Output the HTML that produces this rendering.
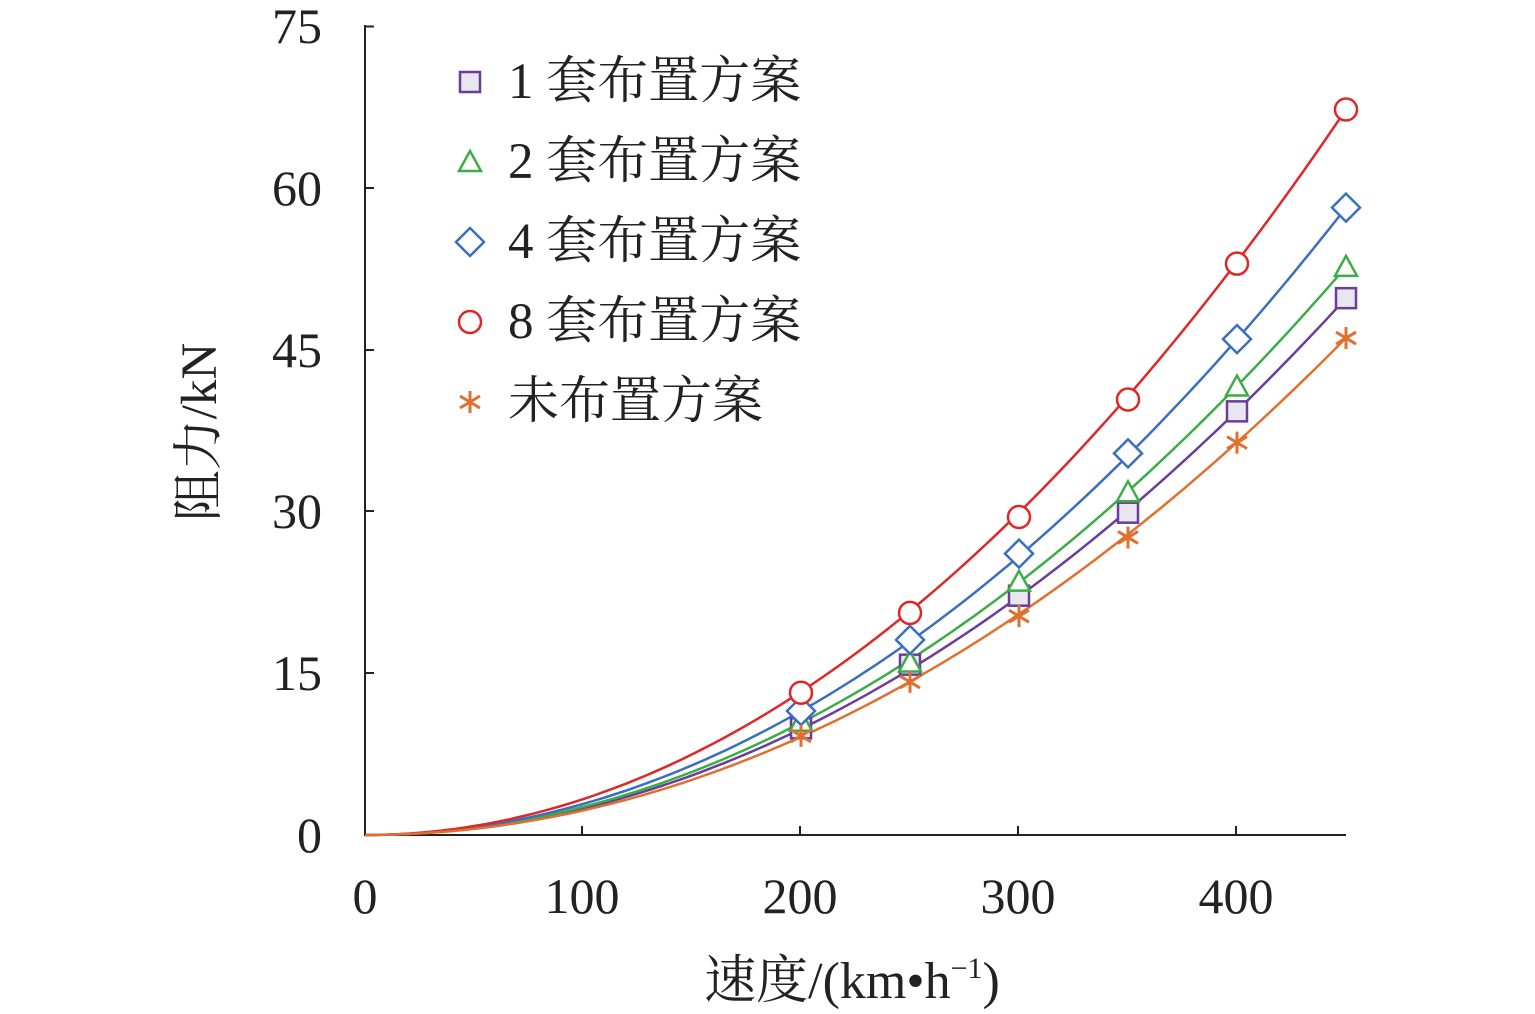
<!DOCTYPE html>
<html><head><meta charset="utf-8"><style>
body{margin:0;background:#fff}
svg{display:block}
text{font-family:"Liberation Serif","Noto Serif CJK SC",serif;fill:#222}
</style></head><body>
<svg id="s" width="1535" height="1014" viewBox="0 0 1535 1014" xmlns="http://www.w3.org/2000/svg">
<g stroke="#222" stroke-width="2" fill="none">
<line x1="365" y1="25" x2="365" y2="836"/>
<line x1="364" y1="835" x2="1346" y2="835"/>
<line x1="365" y1="26.5" x2="374" y2="26.5"/>
<line x1="365" y1="188" x2="374" y2="188"/>
<line x1="365" y1="350" x2="374" y2="350"/>
<line x1="365" y1="511" x2="374" y2="511"/>
<line x1="365" y1="673" x2="374" y2="673"/>
<line x1="582" y1="835" x2="582" y2="826"/>
<line x1="800" y1="835" x2="800" y2="826"/>
<line x1="1018" y1="835" x2="1018" y2="826"/>
<line x1="1236" y1="835" x2="1236" y2="826"/>
</g>
<g font-size="50" text-anchor="end">
<text x="322" y="43">75</text>
<text x="322" y="205">60</text>
<text x="322" y="367">45</text>
<text x="322" y="528">30</text>
<text x="322" y="690">15</text>
<text x="322" y="852">0</text>
</g>
<g font-size="50" text-anchor="middle">
<text x="365" y="913">0</text>
<text x="582" y="913">100</text>
<text x="800" y="913">200</text>
<text x="1018" y="913">300</text>
<text x="1236" y="913">400</text>
<text x="852" y="998" font-size="52">速度/(km•h<tspan font-size="30" dy="-20">−1</tspan><tspan dy="20">)</tspan></text>
</g>
<text font-size="51" text-anchor="middle" transform="translate(216,432) rotate(-90)">阻力/kN</text>
<g id="curves"></g>
<g font-size="51">
<text x="508" y="98">1 套布置方案</text>
<text x="508" y="178">2 套布置方案</text>
<text x="508" y="258">4 套布置方案</text>
<text x="508" y="338">8 套布置方案</text>
<text x="508" y="418">未布置方案</text>
</g>
</svg>
<script>
var S=[
{c:"#6a3d9a",m:"sq",d:[9.9,15.8,22.2,29.9,39.3,49.8]},
{c:"#3cad44",m:"tri",d:[10.5,16,23.5,31.8,41.6,52.7]},
{c:"#3a6fbf",m:"dia",d:[11.5,18.1,26.1,35.4,46,58.2]},
{c:"#e02727",m:"cir",d:[13.2,20.6,29.5,40.4,53,67.3]},
{c:"#e07030",m:"ast",d:[9.2,14.2,20.3,27.6,36.4,46.1]}];
var g=document.getElementById("curves"),h="";
function X(v){return 365+v*2.18}function Y(f){return 835-f*10.78}
function mk(t,x,y,c){
 if(t=="sq")return '<rect x="'+(x-10)+'" y="'+(y-10)+'" width="20" height="20" fill="#e8e6ee" stroke="'+c+'" stroke-width="2.5"/>';
 if(t=="tri")return '<polygon points="'+x+','+(y-11)+' '+(x+11)+','+(y+9)+' '+(x-11)+','+(y+9)+'" fill="#fff" stroke="'+c+'" stroke-width="2.5"/>';
 if(t=="dia")return '<polygon points="'+x+','+(y-14)+' '+(x+14)+','+y+' '+x+','+(y+14)+' '+(x-14)+','+y+'" fill="#fff" stroke="'+c+'" stroke-width="2.5"/>';
 if(t=="cir")return '<circle cx="'+x+'" cy="'+y+'" r="11" fill="#fff" stroke="'+c+'" stroke-width="2.5"/>';
 return '<path d="M'+x+' '+(y-11)+'V'+(y+11)+'M'+(x-10)+' '+(y-6)+'L'+(x+10)+' '+(y+6)+'M'+(x-10)+' '+(y+6)+'L'+(x+10)+' '+(y-6)+'" stroke="'+c+'" stroke-width="3"/>';
}
S.forEach(function(s){
 var a=s.d[5]/(450*450),p="M365 835";
 for(var v=5;v<=450;v+=5)p+="L"+X(v).toFixed(1)+" "+Y(a*v*v).toFixed(1);
 h+='<path d="'+p+'" fill="none" stroke="'+s.c+'" stroke-width="2.5"/>';
});
S.forEach(function(s,i){
 [200,250,300,350,400,450].forEach(function(v,j){h+=mk(s.m,X(v),Y(s.d[j]),s.c)});
 h+=mk(s.m,470,82+i*80,s.c);
});
g.innerHTML=h;
</script>
</body></html>
